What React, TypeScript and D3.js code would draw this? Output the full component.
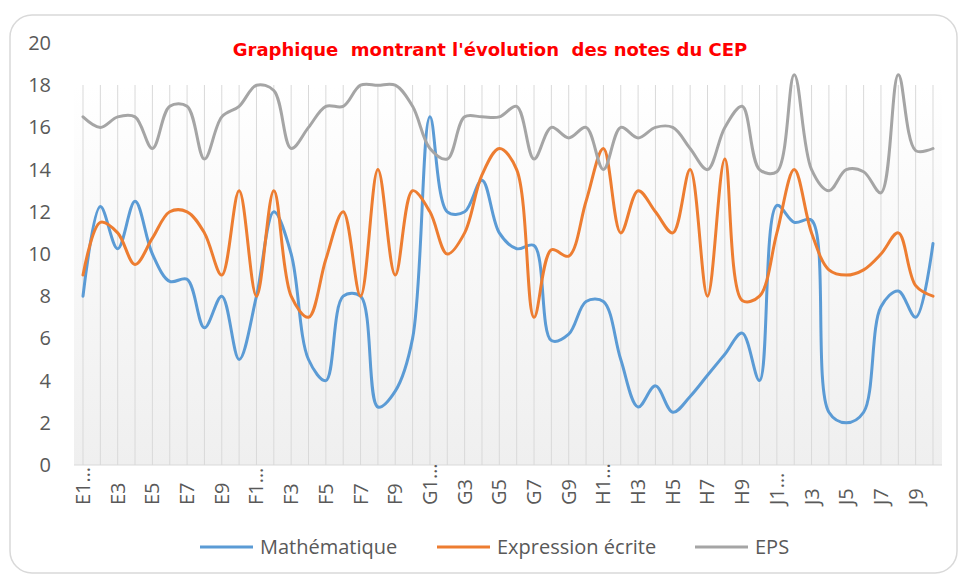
import * as d3 from "d3";
import { useEffect, useRef } from "react";

const WIDTH = 959;
const HEIGHT = 575;

const categories = [
  "E1…", "E2", "E3", "E4", "E5", "E6", "E7", "E8", "E9", "E10",
  "F1…", "F2", "F3", "F4", "F5", "F6", "F7", "F8", "F9", "F10",
  "G1…", "G2", "G3", "G4", "G5", "G6", "G7", "G8", "G9", "G10",
  "H1…", "H2", "H3", "H4", "H5", "H6", "H7", "H8", "H9", "H10",
  "J1…", "J2", "J3", "J4", "J5", "J6", "J7", "J8", "J9", "J10",
];

const mathematique = [
  8, 12.25, 10.25, 12.5, 10, 8.7, 8.8, 6.5, 8, 5,
  8, 12, 10, 5, 4, 8, 8, 2.75, 3.5, 6,
  16.5, 12, 12, 13.5, 11, 10.25, 10.4, 5.9, 6.2, 7.75,
  7.75, 5, 2.75, 3.75, 2.5, 3.25, 4.25, 5.25, 6.25, 4,
  12.3, 11.5, 11.6, 2.5, 2, 2.5, 7.5, 8.25, 7, 10.5,
];

const expression = [
  9, 11.5, 11, 9.5, 10.75, 12, 12, 11, 9, 13,
  8, 13, 8, 7, 9.75, 12, 8, 14, 9, 13,
  12, 10, 11, 13.75, 15, 14, 7, 10.2, 9.9, 12.5,
  15, 11, 13, 12, 11, 14, 8, 14.5, 7.8, 8,
  11, 14, 11, 9.25, 9, 9.25, 10, 11, 8.5, 8,
];

const eps = [
  16.5, 16, 16.5, 16.5, 15, 17, 17, 14.5, 16.5, 17,
  18, 17.75, 15, 16, 17, 17, 18, 18, 18, 17,
  15, 14.5, 16.5, 16.5, 16.5, 17, 14.5, 16, 15.5, 16,
  14, 16, 15.5, 16, 16, 15, 14, 16, 17, 14,
  13.9, 18.5, 14, 13, 14, 13.9, 12.9, 18.5, 14.9, 15,
];

const seriesNames = ["Mathématique", "Expression écrite", "EPS"];
const COLORS = ["#5B9BD5", "#ED7D31", "#A5A5A5"];
const yTicks = d3.range(0, 21, 2);

const PLOT = { left: 74, right: 942, top: 85, bottom: 465 };
const FONT = "'Open Sans', sans-serif";

export default function App() {
  const chartRef = useRef<SVGGElement>(null);

  useEffect(() => {
    const g = d3.select(chartRef.current);
    g.selectAll("*").remove();

    const x = d3.scalePoint<string>().domain(categories).range([83, 933]);
    const y = d3.scaleLinear().domain([0, 20]).range([PLOT.bottom, 43]);

    // plot background
    g.append("rect")
      .attr("x", PLOT.left)
      .attr("y", PLOT.top)
      .attr("width", PLOT.right - PLOT.left)
      .attr("height", PLOT.bottom - PLOT.top)
      .attr("fill", "url(#plotGrad)");

    // vertical grid
    g.selectAll("line.grid")
      .data(categories)
      .enter()
      .append("line")
      .attr("class", "grid")
      .attr("x1", (d) => x(d)!)
      .attr("x2", (d) => x(d)!)
      .attr("y1", PLOT.top)
      .attr("y2", PLOT.bottom)
      .attr("stroke", "#d9d9d9")
      .attr("stroke-width", 1);

    g.append("line")
      .attr("x1", PLOT.left)
      .attr("x2", PLOT.right)
      .attr("y1", PLOT.bottom)
      .attr("y2", PLOT.bottom)
      .attr("stroke", "#d9d9d9")
      .attr("stroke-width", 1);

    // y labels
    g.selectAll("text.ytick")
      .data(yTicks)
      .enter()
      .append("text")
      .attr("class", "ytick")
      .attr("x", 51)
      .attr("y", (d) => y(d) + 7)
      .attr("text-anchor", "end")
      .attr("fill", "#595959")
      .style("font-family", FONT)
      .style("font-size", "20px")
      .text((d) => d);

    // x labels, every other category
    g.selectAll("text.xtick")
      .data(categories.filter((_, i) => i % 2 === 0))
      .enter()
      .append("text")
      .attr("class", "xtick")
      .attr("transform", (d) => `translate(${x(d)! + 7},505) rotate(-90)`)
      .attr("text-anchor", "start")
      .attr("fill", "#595959")
      .style("font-family", FONT)
      .style("font-size", "20px")
      .text((d) => d);

    const line = d3
      .line<number>()
      .x((_, i) => x(categories[i])!)
      .y((d) => y(d))
      .curve(d3.curveCatmullRom.alpha(0.5));

    [mathematique, expression, eps].forEach((values, k) => {
      g.append("path")
        .attr("d", line(values))
        .attr("fill", "none")
        .attr("stroke", COLORS[k])
        .attr("stroke-width", 3)
        .attr("stroke-linecap", "round")
        .attr("stroke-linejoin", "round");
    });
  }, []);

  const legendX = [200, 437, 695];

  return (
    <svg
      width={WIDTH}
      height={HEIGHT}
      style={{ position: "absolute", left: 0, top: 0, background: "#fff" }}
    >
      <defs>
        <linearGradient id="plotGrad" x1="0" y1="0" x2="0" y2="1">
          <stop offset="0%" stopColor="#ffffff" />
          <stop offset="100%" stopColor="#efefef" />
        </linearGradient>
      </defs>
      <rect
        x={10}
        y={15}
        width={947}
        height={558}
        rx={22}
        fill="#fff"
        stroke="#d9d9d9"
        strokeWidth={1.5}
      />
      <g ref={chartRef} />
      <text
        x={490}
        y={56}
        textAnchor="middle"
        fill="#ff0000"
        style={{ fontFamily: "'DejaVu Sans', Verdana, sans-serif", fontWeight: "bold", fontSize: "18px" }}
        xmlSpace="preserve"
      >
        {"Graphique  montrant l'évolution  des notes du CEP"}
      </text>
      {seriesNames.map((name, i) => (
        <g key={name}>
          <line
            x1={legendX[i]}
            x2={legendX[i] + 53}
            y1={547}
            y2={547}
            stroke={COLORS[i]}
            strokeWidth={3}
          />
          <text
            x={legendX[i] + 60}
            y={554}
            fill="#595959"
            style={{ fontFamily: FONT, fontSize: "20px" }}
          >
            {name}
          </text>
        </g>
      ))}
    </svg>
  );
}
